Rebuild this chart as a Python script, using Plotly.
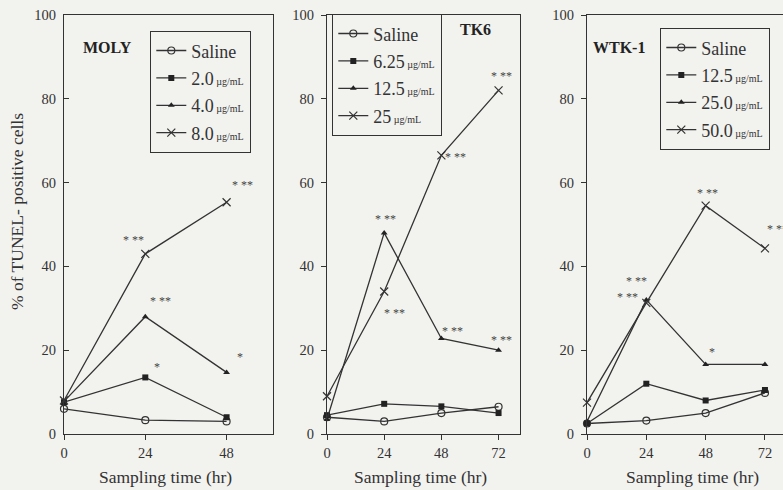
import plotly.graph_objects as go

# ---------------- data ----------------
moly_x = [0, 24, 48]
moly_saline = [6.0, 3.3, 3.0]
moly_2_0 = [7.6, 13.5, 4.0]
moly_4_0 = [7.8, 28.0, 14.7]
moly_8_0 = [8.0, 43.0, 55.3]
moly_labels = ["Saline", "2.0", "4.0", "8.0"]
moly_sig = [["", "", ""], ["", "*", ""], ["", "* **", "*"], ["", "* **", "* **"]]

tk6_x = [0, 24, 48, 72]
tk6_saline = [4.0, 3.0, 5.0, 6.5]
tk6_6_25 = [4.5, 7.2, 6.6, 5.0]
tk6_12_5 = [3.5, 48.0, 22.8, 20.0]
tk6_25 = [9.0, 34.0, 66.5, 82.0]
tk6_labels = ["Saline", "6.25", "12.5", "25"]
tk6_sig = [["", "", "", ""], ["", "", "", ""], ["", "* **", "* **", "* **"], ["", "* **", "* **", "* **"]]

wtk_x = [0, 24, 48, 72]
wtk_saline = [2.5, 3.2, 5.0, 9.8]
wtk_12_5 = [2.5, 12.0, 8.0, 10.5]
wtk_25_0 = [3.0, 32.0, 16.6, 16.6]
wtk_50_0 = [7.5, 31.3, 54.5, 44.3]
wtk_labels = ["Saline", "12.5", "25.0", "50.0"]
wtk_sig = [["", "", "", ""], ["", "", "", ""], ["", "* **", "*", ""], ["", "* **", "* **", "* **"]]

x_ticks_moly = [0, 24, 48]
x_ticks_other = [0, 24, 48, 72]
y_ticks = [0, 20, 40, 60, 80, 100]

# ---------------- style ----------------
FONT = "Liberation Serif"
INK = "#333333"
BG = "#f2f2ef"
W, H = 783, 490

def px_x(p):
    return p / W

def px_y(p):
    return 1 - p / H

markers = [
    dict(symbol="circle-open", size=7, color=INK, line=dict(width=1.2, color=INK)),
    dict(symbol="square", size=6, color="#222"),
    dict(symbol="triangle-up", size=6, color="#222"),
    dict(symbol="x-thin-open", size=8, color=INK, line=dict(width=1.2, color=INK)),
]

# offsets (px) of significance marks relative to their point
sig_offsets = {
    "moly": {(1, 1): (12, 10), (2, 1): (15, 16), (2, 2): (13, 15), (3, 1): (-12, 14), (3, 2): (16, 17)},
    "tk6": {(2, 1): (1, 14), (2, 2): (11, 7), (2, 3): (3, 10),
            (3, 1): (10, -21), (3, 2): (14, -2), (3, 3): (3, 14)},
    "wtk": {(2, 1): (-10, 19), (2, 2): (6, 12), (3, 1): (-19, 6), (3, 2): (2, 13), (3, 3): (13, 19)},
}

fig = go.Figure()
annotations = []

panels = [
    ("moly", "x", "y", "legend", moly_x, [moly_saline, moly_2_0, moly_4_0, moly_8_0], moly_labels, moly_sig),
    ("tk6", "x2", "y2", "legend2", tk6_x, [tk6_saline, tk6_6_25, tk6_12_5, tk6_25], tk6_labels, tk6_sig),
    ("wtk", "x3", "y3", "legend3", wtk_x, [wtk_saline, wtk_12_5, wtk_25_0, wtk_50_0], wtk_labels, wtk_sig),
]

for key, xa, ya, lg, xs, series, labels, sigs in panels:
    for i, (vals, lab) in enumerate(zip(series, labels)):
        name = lab if lab == "Saline" else f"{lab}<span style='font-size:10px'> µg/mL</span>"
        fig.add_trace(go.Scatter(
            x=xs, y=vals, mode="lines+markers", name=name,
            line=dict(color=INK, width=1.3), marker=markers[i],
            xaxis=xa, yaxis=ya, legend=lg, legendgroup=f"{key}{i}",
            cliponaxis=False,
        ))
        for j, s in enumerate(sigs[i]):
            if s:
                dx, dy = sig_offsets[key].get((i, j), (0, 12))
                annotations.append(dict(
                    x=xs[j], y=vals[j], xref=xa, yref=ya, text=s, showarrow=False,
                    xanchor="center", yanchor="middle",
                    xshift=dx, yshift=dy, font=dict(family=FONT, size=12, color="#444"),
                ))

# domains (px from the reference)
ytop, ybot = 15, 434
ydom = [px_y(ybot), px_y(ytop)]
xdoms = [[px_x(64), px_x(273)], [px_x(327), px_x(520)], [px_x(587), 1.0]]
xranges = [[0, 61.7], [0, 81], [0, 79.3]]
xticks = [x_ticks_moly, x_ticks_other, x_ticks_other]

axis_common = dict(
    showgrid=False, zeroline=False, showline=True, linecolor=INK, linewidth=1.3, automargin=False,
    tickfont=dict(family=FONT, size=14.5, color=INK), tickcolor=INK, ticklen=5,
)

for k in range(3):
    sfx = "" if k == 0 else str(k + 1)
    fig.update_layout(**{
        f"xaxis{sfx}": dict(
            domain=xdoms[k], range=xranges[k], tickvals=xticks[k], ticks="outside",
            mirror=True, anchor=f"y{sfx}", **axis_common,
        ),
        f"yaxis{sfx}": dict(
            domain=ydom, range=[0, 100], tickvals=y_ticks, ticks="inside" if k == 0 else "outside",
            mirror=(k < 2), anchor=f"x{sfx}", ticklabelstandoff=4, **axis_common,
        ),
    })

# panel names
for text, xp, yp in [("MOLY", 107, 47), ("TK6", 475, 29), ("WTK-1", 619, 47)]:
    annotations.append(dict(x=px_x(xp), y=px_y(yp), xref="paper", yref="paper", text=f"<b>{text}</b>",
                            xanchor="center", yanchor="middle",
                            showarrow=False, font=dict(family=FONT, size=16, color="#222")))

# axis titles
for xp in [165, 420, 692]:
    annotations.append(dict(x=px_x(xp), y=px_y(477), xref="paper", yref="paper", text="Sampling time (hr)",
                            xanchor="center", yanchor="middle",
                            showarrow=False, font=dict(family=FONT, size=17.5, color=INK)))
annotations.append(dict(x=px_x(17), y=px_y(212), xref="paper", yref="paper", text="% of TUNEL- positive cells",
                        xanchor="center", yanchor="middle",
                        textangle=-90, showarrow=False, font=dict(family=FONT, size=17.5, color=INK)))

legend_style = dict(
    font=dict(family=FONT, size=18, color=INK), bgcolor="rgba(0,0,0,0)", bordercolor=INK, borderwidth=1.3,
    xanchor="left", yanchor="top", tracegroupgap=1, itemwidth=30,
)
fig.update_layout(
    width=W, height=H, margin=dict(l=0, r=0, t=0, b=0, autoexpand=False),
    paper_bgcolor=BG, plot_bgcolor=BG, showlegend=True,
    legend=dict(x=px_x(150), y=px_y(31), **legend_style),
    legend2=dict(x=px_x(332), y=px_y(14), **legend_style),
    legend3=dict(x=px_x(660), y=px_y(28), **legend_style),
    annotations=annotations,
)

fig.write_html("out.html", config={"displayModeBar": False},
               post_script="document.body.style.margin='0';document.body.style.overflow='hidden';")
